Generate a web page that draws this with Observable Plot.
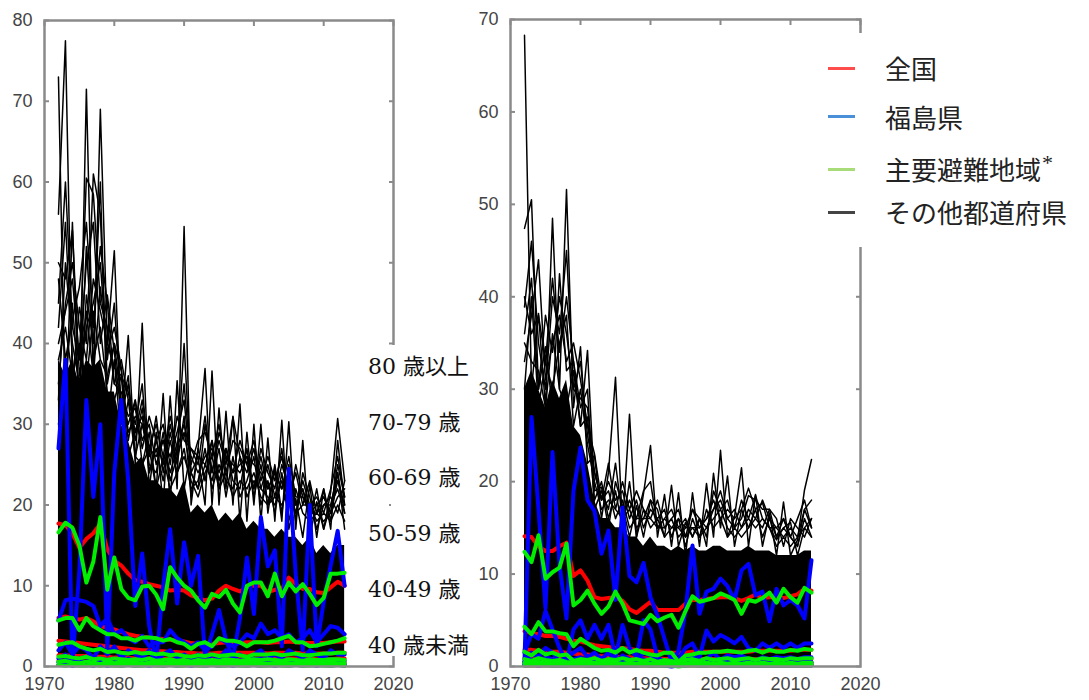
<!DOCTYPE html>
<html><head><meta charset="utf-8">
<script src="https://cdn.jsdelivr.net/npm/d3@7"></script>
<script src="https://cdn.jsdelivr.net/npm/@observablehq/plot@0.6"></script>
<style>
html,body{margin:0;padding:0;background:#fff;}
body{width:1089px;height:700px;position:relative;overflow:hidden;}
.panel{position:absolute;top:0;}
.age{position:absolute;left:368px;font-size:22px;font-family:"DejaVu Serif","Liberation Serif","Noto Sans CJK JP",serif;color:#111;white-space:nowrap;line-height:22px;}
#legend{position:absolute;left:812px;top:33px;width:277px;height:214px;background:#fff;}
.lg-line{position:absolute;left:828px;width:27px;height:3px;}
.lg-text{position:absolute;left:885px;font-size:26px;line-height:26px;font-family:"Noto Sans CJK JP",sans-serif;color:#222;white-space:nowrap;}
.lg-text sup{font-family:"Liberation Serif",serif;font-size:22px;position:relative;top:-6px;vertical-align:top;margin-left:1px;}
#gap{position:absolute;left:391px;top:345px;width:4px;height:311px;background:#fff;}
</style>
</head><body>
<div id="left" class="panel"></div>
<div id="right" class="panel" style="left:460px"></div>
<div id="gap"></div>
<div id="ages"></div>
<div id="legend"></div>
<script>
const years = [1972,1973,1974,1975,1976,1977,1978,1979,1980,1981,1982,1983,1984,1985,1986,1987,1988,1989,1990,1991,1992,1993,1994,1995,1996,1997,1998,1999,2000,2001,2002,2003,2004,2005,2006,2007,2008,2009,2010,2011,2012,2013];
const xTicks = [1970,1980,1990,2000,2010,2020];
const leftYTicks = [0,10,20,30,40,50,60,70,80];
const rightYTicks = [0,10,20,30,40,50,60,70];
const ageLabels = ["80 歳以上","70-79 歳","60-69 歳","50-59 歳","40-49 歳","40 歳未満"];
const legendLabels = ["全国","福島県","主要避難地域","その他都道府県"];
const legendNotes = ["","","*",""];
const legendColors = ["#ff4d4d","#4a90d9","#a8dc78","#444444"];

// Left panel: age groups 80+, 70-79, 60-69, 50-59, 40-49, <40
const leftNational = [
 [17.7,17.5,16.5,14.7,15.8,16.5,17.7,14.5,13.1,12.5,11.5,10.7,10.5,10.2,10,9.8,9.4,9.5,9.4,8.8,8.5,8.2,8.4,9.4,10,9.6,9.3,9.8,10,10,9.2,9.5,9.6,11,10.2,9.6,9.6,9.2,9.1,9.8,10.5,10],
 [6,6.2,6,5.8,6,5.6,5,4.8,4.6,4.3,4,3.8,3.7,3.6,3.5,3.4,3.3,3.2,3.1,2.9,2.8,2.7,2.8,2.9,3,2.9,2.9,3,3,3,2.9,3,3,3.1,3,2.9,2.9,2.9,2.9,3,3.1,3.1],
 [3.2,3.1,3,2.9,2.8,2.7,2.6,2.5,2.4,2.3,2.2,2.1,2,2,1.9,1.9,1.8,1.8,1.7,1.7,1.6,1.6,1.6,1.7,1.7,1.7,1.7,1.7,1.7,1.7,1.6,1.7,1.7,1.7,1.7,1.6,1.6,1.6,1.6,1.6,1.7,1.7],
 [1.4,1.4,1.3,1.3,1.3,1.2,1.2,1.2,1.1,1.1,1.1,1,1,1,1,1,0.9,0.9,0.9,0.9,0.9,0.9,0.9,0.9,1,1,1,1,1,1,1,1,1,1,1,1,1,0.9,0.9,0.9,1,1],
 [0.7,0.7,0.7,0.7,0.6,0.6,0.6,0.6,0.6,0.6,0.6,0.5,0.5,0.5,0.5,0.5,0.5,0.5,0.5,0.5,0.5,0.5,0.5,0.5,0.5,0.5,0.5,0.5,0.5,0.5,0.5,0.5,0.5,0.5,0.5,0.5,0.5,0.5,0.5,0.5,0.5,0.5],
 [0.2,0.2,0.2,0.2,0.2,0.2,0.2,0.2,0.2,0.2,0.2,0.2,0.2,0.2,0.2,0.2,0.2,0.2,0.2,0.2,0.2,0.2,0.2,0.2,0.2,0.2,0.2,0.2,0.2,0.2,0.2,0.2,0.2,0.2,0.2,0.2,0.2,0.2,0.2,0.2,0.2,0.2]
];
const leftFukushima = [
 [27,38,0.5,12,33,21,30,2,24,33,23,7.5,14,5,0.5,10,17,7.8,15.4,10,13.7,1.2,4,7,3.3,1,6,13.5,6.5,18.5,12.4,14.4,2.5,24.5,11.3,2,20,2.5,8,12.5,16.8,10],
 [5.7,8.2,8.4,8.2,8,7.5,5,6,4,4.5,3.5,3,3.8,2.5,3,3,4.5,3.5,3,2.5,3,2,2.5,3.5,3,2.5,3,4,3.5,5.3,4,4.5,3.5,4,3,3.5,4.5,3,4,5,4.8,4],
 [2,3,1.5,2.5,2,1,2.5,1.5,2.5,1,2,1.5,1,2,0.5,1.5,2,1,1.5,1,1.5,0.5,1.5,1,2,1,1.5,1,1.5,2,1,1.5,1,2,1.5,1,2,1.5,1,2,1.5,1.5],
 [1,1.5,0.5,1,1.2,0.5,1,0.8,1,0.5,1,0.6,0.8,0.5,1,0.6,0.9,0.5,0.8,0.6,0.9,0.4,0.8,0.6,1,0.5,0.8,0.6,0.9,1,0.6,0.8,0.5,0.9,0.7,0.6,0.9,0.7,0.6,0.9,0.8,0.7],
 [0.5,0.8,0.2,0.6,0.5,0.3,0.7,0.4,0.5,0.2,0.6,0.3,0.5,0.2,0.5,0.4,0.5,0.3,0.4,0.3,0.5,0.2,0.4,0.3,0.5,0.3,0.4,0.3,0.5,0.4,0.3,0.5,0.3,0.4,0.3,0.4,0.5,0.3,0.4,0.5,0.4,0.3],
 [0.2,0.3,0.1,0.2,0.2,0.1,0.3,0.1,0.2,0.1,0.2,0.1,0.2,0.1,0.2,0.1,0.2,0.1,0.2,0.1,0.2,0.1,0.2,0.1,0.2,0.1,0.2,0.1,0.2,0.1,0.2,0.1,0.2,0.1,0.2,0.1,0.2,0.1,0.2,0.1,0.2,0.1]
];
const leftEvac = [
 [16.6,17.8,17.2,15,10.4,13,18.5,9.5,13.5,9.6,8.5,8.2,9.9,10,8.9,7.1,12.3,11,10,9.4,8.2,7.3,9,8.6,9.5,7.8,6.7,10,10.4,10.4,8.7,11.5,8.7,10.4,9.3,10.2,9,7.6,8.5,11.5,11.5,11.6],
 [5.7,6,6,4.5,6,5,4.5,4,4,3.5,3.5,3.2,3.6,3.6,3.5,3.2,3.4,3,2.8,2.2,2.8,3,2.5,3.5,3.2,3.2,3,2.5,3,3,3,3.2,3.5,3.8,3,3,2.5,2.6,2.8,3,3.2,3.5],
 [2.7,2.9,3,2.5,2.2,2,2.2,1.8,1.9,1.7,1.6,1.8,1.6,1.7,1.5,1.6,1.4,1.5,1.3,1.2,1.4,1.3,1.5,1.3,1.4,1.5,1.4,1.2,1.5,1.5,1.5,1.6,1.4,1.5,1.6,1.4,1.4,1.5,1.6,1.6,1.7,1.7],
 [1.2,1.3,1.1,1,1.2,0.9,1,0.8,1,0.9,0.8,0.9,0.8,1,0.7,0.8,0.9,0.7,0.8,0.6,0.8,0.7,0.8,0.7,0.9,0.8,0.7,0.8,0.9,0.8,0.9,0.8,0.7,0.9,0.8,0.7,0.9,0.8,0.8,0.9,0.9,0.8],
 [0.6,0.7,0.5,0.4,0.6,0.5,0.3,0.6,0.4,0.5,0.4,0.5,0.3,0.5,0.4,0.3,0.5,0.4,0.3,0.4,0.5,0.3,0.4,0.3,0.5,0.4,0.3,0.4,0.5,0.4,0.3,0.4,0.5,0.4,0.3,0.4,0.5,0.4,0.4,0.5,0.4,0.4],
 [0.2,0.1,0.2,0.1,0.1,0.2,0.1,0.2,0.1,0.1,0.2,0.1,0.1,0.2,0.1,0.1,0.2,0.1,0.1,0.2,0.1,0.1,0.2,0.1,0.1,0.2,0.1,0.1,0.2,0.1,0.1,0.2,0.1,0.1,0.2,0.1,0.1,0.2,0.1,0.1,0.2,0.1]
];
const leftOther = [
 [73,30,55,30,71.5,35,69,40,51.5,30,41,25,42.5,22,29,20,33.5,22,54.5,20,27,36.9,20,32,22,31,18,29,20,30,19,24.7,18,30.3,17,28,16,20.4,17,21.6,30.7,23],
 [56,77.5,35,44.5,40,61,56,35,40,36.6,28,33,25,29,22,33.8,20,35.4,22,27,26,20,36.6,20,31.6,20,32.5,18,30,18,28.3,18,30.5,17,20.8,16,22.5,16,22,17,28,20],
 [45,60,42,38,60.5,58.5,45,42,35,38,33,30,35,24,28,25,30,26,40,24,22,30,24,28,25,30.9,26,24,27,22,25,21,25,22,19,23,20,20,21,19,25,21],
 [50,48,54,36,42,45,50,38,45,32,36,26,30,27,26,28,24,27,30,26,24,26,27,24,27,24,25,26,22,26,22,24,22,26,21,21,19,19,20,20,22,19],
 [38,42,36,40,35,44,38,36,40,33,30,33,28,30,25,28,26,29,33,24,26,25,28,23,26,25,24,26,25,24,22,24,22,24,20,22,19,20,21,19,23,20],
 [30,35,45,33,52,38,42,34,33,36,26,29,31,24,27,23,28,24,27,22,23,27,22,25,23,22,26,21,23,22,21,20,23,21,20,22,18,19,18,19,21,22],
 [42,55,38,30,46,40,60,30,38,28,33,26,25,27,22,26,22,24,26,23,21,24,26,22,24,21,23,22,24,21,20,21,20,22,19,20,20,18,19,18,20,18],
 [35,45,50,42,38,48,44,40,37,36,34,29,33,27,30,26,31,27,35,25,28,29,26,30,24,28,27,25,28,23,26,23,26,21,24,20,23,19,22,18,24,19],
 [48,38,43,47,55,42,52,45,35,34,31,32,27,31,28,30,25,31,28,27,25,31,24,29,26,24,28,25,22,27,24,22,27,20,25,21,20,21,19,22,26,21],
 [33,50,40,35,44,36,47,39,42,37,29,31,30,26,31,24,29,25,31,21,27,23,28,22,27,23,22,27,21,25,20,25,19,25,18,24,21,17,20,21,19,23],
 [40,44,48,38,50,55,40,46,39,31,35,28,32,25,24,29,23,26,29,24,22,25,23,27,21,26,21,23,26,20,23,19,24,18,22,19,18,22,17,20,24,17]
];
const leftOtherDense = [38,36,38,35,38,37,38,34,34,30,28,25,26,23,23,22,22,21,23,19,20,19,20,18,19,18,19,17,18,17,17,16,17,16,16,15,16,14,15,14,15,15];

// Right panel
const rightNational = [
 [14.1,14,13,12.5,12.5,13,13.4,9.8,10.4,9.3,7.5,7.3,7.4,7.5,7.1,6.2,5.8,6.4,7,6.1,6.1,6.1,6.1,6.8,7.2,7.2,7.3,7.4,7.5,7.5,7.4,7.1,7.4,7.8,7.4,7.5,7.5,7.4,7.6,7.8,8.4,8.2],
 [3.8,3.6,3.5,3.3,3.3,3.2,3,2.8,2.7,2.5,2.3,2.2,2.1,2,2,1.9,1.8,1.7,1.7,1.6,1.5,1.5,1.5,1.5,1.6,1.6,1.6,1.6,1.6,1.6,1.6,1.6,1.6,1.7,1.7,1.7,1.7,1.7,1.7,1.8,1.8,1.8],
 [1.8,1.8,1.7,1.7,1.6,1.6,1.5,1.4,1.3,1.3,1.2,1.1,1.1,1,1,1,0.9,0.9,0.9,0.9,0.8,0.8,0.8,0.8,0.8,0.8,0.8,0.8,0.8,0.8,0.8,0.8,0.8,0.8,0.8,0.8,0.8,0.8,0.8,0.8,0.8,0.8],
 [0.9,0.9,0.9,0.8,0.8,0.8,0.7,0.7,0.7,0.6,0.6,0.6,0.5,0.5,0.5,0.5,0.5,0.5,0.4,0.4,0.4,0.4,0.4,0.4,0.4,0.4,0.4,0.4,0.4,0.4,0.4,0.4,0.4,0.4,0.4,0.4,0.4,0.4,0.4,0.4,0.4,0.4],
 [0.5,0.5,0.5,0.4,0.4,0.4,0.4,0.4,0.3,0.3,0.3,0.3,0.3,0.3,0.3,0.3,0.3,0.3,0.3,0.2,0.2,0.2,0.2,0.2,0.2,0.2,0.2,0.2,0.2,0.2,0.2,0.2,0.2,0.2,0.2,0.2,0.2,0.2,0.2,0.2,0.2,0.2],
 [0.1,0.1,0.1,0.1,0.1,0.1,0.1,0.1,0.1,0.1,0.1,0.1,0.1,0.1,0.1,0.1,0.1,0.1,0.1,0.1,0.1,0.1,0.1,0.1,0.1,0.1,0.1,0.1,0.1,0.1,0.1,0.1,0.1,0.1,0.1,0.1,0.1,0.1,0.1,0.1,0.1,0.1]
];
const rightFukushima = [
 [0.5,27,17,6.3,23.2,11,5.2,19,23.7,18,16.8,12.2,14.7,7.2,17.2,9.8,9.1,11.2,7.5,5.5,3,0.5,1.7,6,13.1,5.7,8.1,8.4,9.5,8.7,7.2,10.4,11.1,7.7,8.1,4.9,8.4,6.6,7.2,6.6,5.2,11.5],
 [1.5,3.5,3,6,4,2,0.5,4,5,3,4.5,3,4.5,1,4.5,2,1,5,4,1,0.5,0.3,0.8,2,2.5,1,3.9,2.7,3.4,3,2.5,3.2,2,1.7,2.5,2,2.5,2,2.5,2,2.5,2.5],
 [0.5,1.5,1,2,1.5,0.5,1,1.5,2,1,1.5,0.8,1.5,0.5,1.2,0.8,0.5,1.5,1.2,0.5,0.3,0.2,0.5,1,1.2,0.5,0.8,1.5,0.7,1.2,1,1.2,0.8,0.7,1,0.8,1,0.9,1,0.8,1,1],
 [0.3,0.8,0.5,1,0.8,0.3,0.5,0.8,1,0.5,0.8,0.4,0.7,0.3,0.6,0.4,0.3,0.8,0.6,0.3,0.2,0.1,0.3,0.5,0.6,0.3,0.4,0.7,0.4,0.6,0.5,0.6,0.4,0.4,0.5,0.4,0.5,0.4,0.5,0.4,0.5,0.5],
 [0.2,0.4,0.3,0.5,0.4,0.2,0.3,0.4,0.5,0.3,0.4,0.2,0.4,0.2,0.3,0.2,0.2,0.4,0.3,0.2,0.1,0.1,0.2,0.3,0.3,0.2,0.2,0.4,0.2,0.3,0.3,0.3,0.2,0.2,0.3,0.2,0.3,0.2,0.3,0.2,0.3,0.3],
 [0.1,0.2,0.1,0.2,0.1,0.1,0.1,0.2,0.2,0.1,0.1,0.1,0.2,0.1,0.1,0.1,0.1,0.2,0.1,0.1,0.1,0,0.1,0.1,0.2,0.1,0.1,0.2,0.1,0.1,0.1,0.1,0.1,0.1,0.1,0.1,0.1,0.1,0.1,0.1,0.1,0.1]
];
const rightEvac = [
 [12.4,11.3,14.2,9.5,10.2,10.7,13.3,6.6,7.2,8.2,6.8,5.7,6.5,8.1,6.8,5,4.8,4.6,5.6,4.9,5.3,5.6,4.2,6,7.6,7,7.2,7.4,7.9,7.6,7.2,5.7,7.2,7,7.4,8,6.9,8.4,7.5,6.9,8.5,8],
 [4.3,3.5,4.8,3.8,3.8,3.6,3.5,2.2,3,2.5,2,1.7,1.8,1.5,2,1.5,1.8,1.5,1.3,1.2,1.5,1.5,0.5,1.2,1.3,1.5,1.5,1.6,1.6,1.7,1.6,1.5,1.7,1.8,1.5,1.8,1.6,1.6,1.8,1.7,1.9,1.8],
 [1.6,1.2,1.8,1.3,1.5,1.2,1.3,0.6,0.8,0.7,0.9,0.6,0.8,0.7,0.9,0.7,0.8,0.6,0.8,0.5,0.7,0.6,0.3,0.7,0.8,0.6,0.9,0.7,0.8,0.9,0.7,0.8,0.9,0.7,0.9,0.8,0.8,0.7,0.9,0.8,0.9,0.9],
 [0.8,0.6,0.9,0.7,0.6,0.7,0.5,0.4,0.5,0.4,0.4,0.3,0.5,0.4,0.3,0.4,0.3,0.4,0.3,0.2,0.3,0.4,0.2,0.3,0.4,0.3,0.4,0.3,0.4,0.3,0.4,0.3,0.4,0.3,0.4,0.3,0.4,0.3,0.4,0.3,0.4,0.4],
 [0.4,0.3,0.5,0.3,0.3,0.4,0.3,0.2,0.3,0.2,0.2,0.2,0.3,0.2,0.2,0.2,0.2,0.2,0.2,0.1,0.2,0.2,0.1,0.2,0.2,0.2,0.2,0.2,0.2,0.2,0.2,0.2,0.2,0.2,0.2,0.2,0.2,0.2,0.2,0.2,0.2,0.2],
 [0.1,0.1,0.2,0.1,0.1,0.1,0.1,0.1,0.1,0.1,0.1,0.1,0.1,0.1,0.1,0.1,0.1,0.1,0.1,0.1,0.1,0.1,0,0.1,0.1,0.1,0.1,0.1,0.1,0.1,0.1,0.1,0.1,0.1,0.1,0.1,0.1,0.1,0.1,0.1,0.1,0.1]
];
const rightOther = [
 [68.3,30,38.2,28,48.5,30,51.6,28,34.6,22,22.8,16,21,31.3,15,27.3,14,18.7,23.9,14,18.6,13,18.8,12,18.8,13,19.8,14,23.4,14,16.2,21.5,13,18.6,13,16.6,12,17.8,12,13.7,19.1,22.4],
 [47.4,50.5,30,34.6,28,42.5,32,33,26,34.2,19,19.4,15,20,17.4,14,17.4,14,18,17,14,19.6,13,15.6,14,16,13,20.9,15,20.6,13,17,19.3,17,17.7,15,13.7,15,15.6,12,15,16],
 [38.9,46,35,30,40,36,45,30,29,28,21,18,19,16,18,15,16,16,16,15,16,15,15,14,15,15,16,17,18,16,15,16,18.5,18,17,17,14,16,14,13,17,15],
 [30,40,28,33,30,35,38,26,30,24,20,17,18,17,16,17,15,16,18,15,15,16,14,15,15,14,15,16,17,15,14,15,16,15,16,15,13,14,13,14,15,14],
 [35,33,32,28,36,30,28,32,26,27,18,20,16,19,15,20,14,17,15,16,14,15,16,13,16,14,17,15,16,14,15,14,15,17,14,16,14,15,14,13,16,14],
 [36,42,30,38,34,40,36,30,33,25,21,18,20,18,19,16,18,15,17,16,17,14,16,15,17,15,16,18,16,17,16,17,15,16,18,16,15,14,15,14,17,18],
 [40,36,38,33,42,34,40,33,28,30,17,19,17,22,16,18,16,19,20,15,16,17,15,16,14,16,15,17,19,16,17,15,17,16,15,17,16,13,16,15,14,16],
 [33,38,44,31,35,38,33,35,31,26,23,18,22,17,20,17,19,17,16,18,15,16,17,14,17,16,14,19,17,18,15,18,16,18.5,16,15,15,16,14,16,18,15]
];
const rightOtherDense = [30,32,30,28,31,29,31,26,25,22,18,16,16,15,15,14,14,13,14,13,13,12.5,13,12.5,13,12.5,12.5,13,13,12.5,12.5,12.5,13,12.5,12.5,12.5,12,12,12,12,12.5,12.5];

function tidy(groups, key) {
  return groups.flatMap((vals, g) => vals.map((v, i) => ({year: years[i], value: v, series: key + g})));
}
function tidyOne(vals) {
  return vals.map((v, i) => ({year: years[i], value: v}));
}

const FRAME = "#8a8a8a";
function panel(o) {
  const line = (data, stroke, sw) => Plot.line(data, {x: "year", y: "value", z: "series", stroke, strokeWidth: sw, strokeLinejoin: "round"});
  return Plot.plot({
    width: o.width, height: 700,
    marginLeft: o.marginLeft, marginRight: o.marginRight, marginTop: o.marginTop, marginBottom: 34,
    x: {domain: [1970, 2020], label: null},
    y: {domain: [0, o.yMax], label: null},
    style: {background: "transparent", overflow: "visible", fontFamily: "'Liberation Sans', Arial, sans-serif", fontSize: "18px", color: "#444"},
    marks: [
      Plot.areaY(tidyOne(o.dense), {x: "year", y: "value", fill: "#000"}),
      line(tidy(o.other, "o"), "#000", 1.5),
      line(tidy(o.nat, "n"), "#ff0000", 4),
      line(tidy(o.fuk, "f"), "#0000ff", 4),
      line(tidy(o.evac, "e"), "#00ee00", 4),
      Plot.frame({stroke: FRAME, strokeWidth: 2.5}),
      Plot.axisX(xTicks, {anchor: "bottom", tickSize: 0, tickPadding: 11, tickFormat: d => String(d), fill: "#444"}),
      Plot.axisX(xTicks, {anchor: "top", tickSize: -5, stroke: FRAME, strokeWidth: 2, fill: "none", tickFormat: () => ""}),
      Plot.axisY(o.yTicks, {anchor: "left", tickSize: 0, tickPadding: 12, fill: "#444"}),
      Plot.axisY(o.yTicks, {anchor: "left", tickSize: -5, stroke: FRAME, strokeWidth: 2, fill: "none", tickFormat: () => ""}),
      Plot.axisY(o.yTicks, {anchor: "right", tickSize: -5, stroke: FRAME, strokeWidth: 2, fill: "none", tickFormat: () => ""})
    ]
  });
}

document.getElementById("left").append(panel({
  width: 400, marginLeft: 44, marginRight: 7, marginTop: 20, yMax: 80, yTicks: leftYTicks,
  dense: leftOtherDense, other: leftOther, nat: leftNational, fuk: leftFukushima, evac: leftEvac
}));
document.getElementById("right").append(panel({
  width: 410, marginLeft: 50, marginRight: 10, marginTop: 19, yMax: 70, yTicks: rightYTicks,
  dense: rightOtherDense, other: rightOther, nat: rightNational, fuk: rightFukushima, evac: rightEvac
}));

// age labels
const ages = document.getElementById("ages");
ageLabels.forEach((t, i) => {
  const d = document.createElement("div");
  d.className = "age";
  d.style.top = (356 + i * 55.7) + "px";
  d.textContent = t;
  ages.append(d);
});

// legend
const rowCenters = [68, 116.5, 169, 212];
const body = document.body;
legendLabels.forEach((t, i) => {
  const ln = document.createElement("div");
  ln.className = "lg-line";
  ln.style.top = (rowCenters[i] - 1.5) + "px";
  ln.style.background = legendColors[i];
  body.append(ln);
  const tx = document.createElement("div");
  tx.className = "lg-text";
  tx.style.top = (rowCenters[i] - 13) + "px";
  tx.textContent = t;
  if (legendNotes[i]) {
    const s = document.createElement("sup");
    s.textContent = legendNotes[i];
    tx.append(s);
  }
  body.append(tx);
});
</script>
</body></html>
